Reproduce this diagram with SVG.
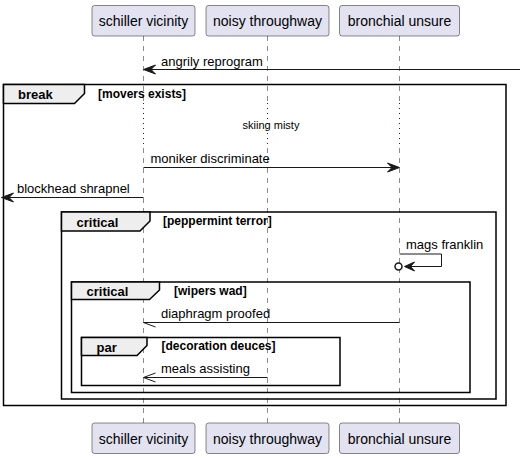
<svg xmlns="http://www.w3.org/2000/svg" width="520" height="459" viewBox="0 0 520 459">
<style>
.part rect{fill:#E2E2F0;stroke:#181818;stroke-width:0.5}
.part text{font-family:"Liberation Sans",Arial,sans-serif;font-size:14px;fill:#000;text-anchor:middle}
.life{stroke:#181818;stroke-width:0.5;stroke-dasharray:5,5;fill:none}
.delay{stroke:#800000;stroke-width:1;stroke-dasharray:1,4;fill:none}
.msg{stroke:#181818;stroke-width:1;fill:none}
.head{fill:#181818;stroke:#181818;stroke-width:1}
.mt{font-family:"Liberation Sans",Arial,sans-serif;font-size:13px;fill:#000}
.frame{fill:none;stroke:#000;stroke-width:1.5}
.tab{fill:#EEEEEE;stroke:#000;stroke-width:1.5}
.ft{font-family:"Liberation Sans",Arial,sans-serif;font-size:13px;font-weight:bold;fill:#000}
.gt{font-family:"Liberation Sans",Arial,sans-serif;font-size:12px;font-weight:bold;fill:#000}
.dt{font-family:"Liberation Sans",Arial,sans-serif;font-size:11px;fill:#000;text-anchor:middle}
</style>
<g id="lifelines">
<line class="life" x1="143.5" y1="36" x2="143.5" y2="103"/>
<line class="delay" x1="143.5" y1="103" x2="143.5" y2="148"/>
<line class="life" x1="143.5" y1="148" x2="143.5" y2="423"/>
<line class="life" x1="267.5" y1="36" x2="267.5" y2="103"/>
<line class="delay" x1="267.5" y1="103" x2="267.5" y2="148"/>
<line class="life" x1="267.5" y1="148" x2="267.5" y2="423"/>
<line class="life" x1="399.5" y1="36" x2="399.5" y2="103"/>
<line class="delay" x1="399.5" y1="103" x2="399.5" y2="148"/>
<line class="life" x1="399.5" y1="148" x2="399.5" y2="423"/>
</g>
<g id="frames">
<g id="frame-break">
<rect class="frame" x="3.5" y="84.5" width="502.5" height="321"/>
<polygon class="tab" points="3.5,84.5 84.5,84.5 84.5,93.5 74.5,103.5 3.5,103.5"/>
<text class="ft" x="18" y="99">break</text>
<text class="gt" x="98" y="97.5">[movers exists]</text>
</g>
<g id="frame-critical1">
<rect class="frame" x="61.5" y="212" width="434.5" height="187"/>
<polygon class="tab" points="61.5,212 150,212 150,221 140,231 61.5,231"/>
<text class="ft" x="76.5" y="226.5">critical</text>
<text class="gt" x="163" y="225">[peppermint terror]</text>
</g>
<g id="frame-critical2">
<rect class="frame" x="71.5" y="282" width="398.5" height="110.5"/>
<polygon class="tab" points="71.5,282 159.5,282 159.5,290 149.5,299.5 71.5,299.5"/>
<text class="ft" x="86.5" y="296">critical</text>
<text class="gt" x="174" y="295">[wipers wad]</text>
</g>
<g id="frame-par">
<rect class="frame" x="81.5" y="337.5" width="258.5" height="48"/>
<polygon class="tab" points="81.5,337.5 147,337.5 147,345.5 137,355.5 81.5,355.5"/>
<text class="ft" x="96.5" y="351.5">par</text>
<text class="gt" x="161.5" y="350">[decoration deuces]</text>
</g>
</g>
<g id="connectors">
<line class="msg" x1="520" y1="69.5" x2="145" y2="69.5"/>
<polygon class="head" points="143.5,69.5 155.5,65 151,69.5 155.5,74"/>
<text class="mt" x="161" y="65.5">angrily reprogram</text>
<text class="dt" x="271" y="129">skiing misty</text>
<line class="msg" x1="143.5" y1="167.5" x2="397" y2="167.5"/>
<polygon class="head" points="399.5,167.5 387.5,163 392,167.5 387.5,172"/>
<text class="mt" x="150.5" y="163">moniker discriminate</text>
<line class="msg" x1="143.5" y1="197.5" x2="3" y2="197.5"/>
<polygon class="head" points="1.5,197.5 13.5,193 9,197.5 13.5,202"/>
<text class="mt" x="17" y="193">blockhead shrapnel</text>
<polyline class="msg" points="399.5,254 441.5,254 441.5,266.5 406,266.5"/>
<polygon class="head" points="404.5,266.5 414.5,262 410.5,266.5 414.5,271"/>
<circle cx="398.5" cy="266.5" r="3.5" fill="#FFFFFF" stroke="#181818" stroke-width="1.5"/>
<text class="mt" x="406" y="249">mags franklin</text>
<line class="msg" x1="399.5" y1="322.5" x2="143.5" y2="322.5"/>
<line class="msg" x1="143.5" y1="322.5" x2="155.5" y2="327"/>
<text class="mt" x="161" y="317.5">diaphragm proofed</text>
<line class="msg" x1="267.5" y1="377.5" x2="143.5" y2="377.5"/>
<polyline class="msg" points="155.5,373 143.5,377.5 155.5,382"/>
<text class="mt" x="161" y="373">meals assisting</text>
</g>
<g id="p-schiller-top" class="part"><rect x="92" y="5.5" width="103" height="30.5" rx="2.5"/><text x="143.5" y="26">schiller vicinity</text></g>
<g id="p-noisy-top" class="part"><rect x="206" y="5.5" width="123" height="30.5" rx="2.5"/><text x="267.5" y="26">noisy throughway</text></g>
<g id="p-bronchial-top" class="part"><rect x="339.5" y="5.5" width="120" height="30.5" rx="2.5"/><text x="399.5" y="26">bronchial unsure</text></g>
<g id="p-schiller-bottom" class="part"><rect x="92" y="423" width="103" height="30.5" rx="2.5"/><text x="143.5" y="443.5">schiller vicinity</text></g>
<g id="p-noisy-bottom" class="part"><rect x="206" y="423" width="123" height="30.5" rx="2.5"/><text x="267.5" y="443.5">noisy throughway</text></g>
<g id="p-bronchial-bottom" class="part"><rect x="339.5" y="423" width="120" height="30.5" rx="2.5"/><text x="399.5" y="443.5">bronchial unsure</text></g>
</svg>
